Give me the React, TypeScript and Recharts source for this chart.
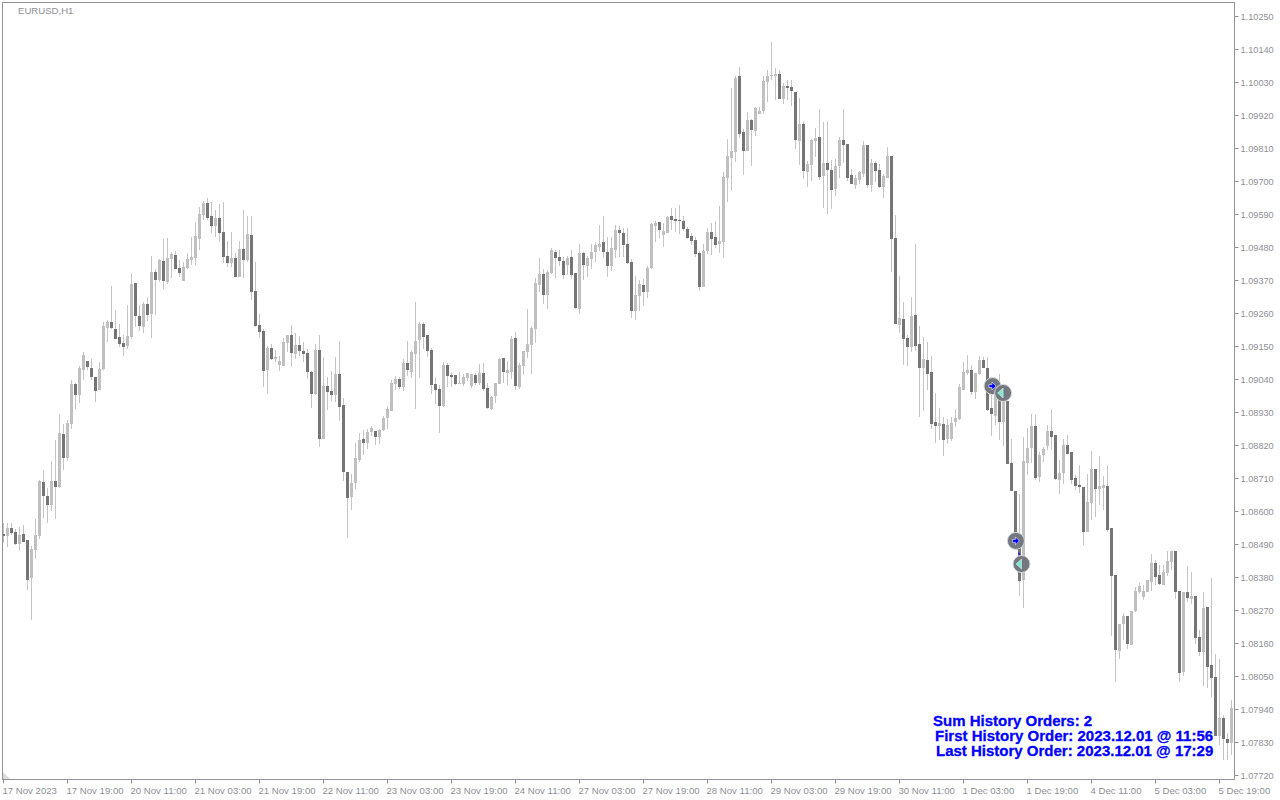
import { Bar, ComposedChart, Line, Scatter, XAxis, YAxis } from "recharts";

// EURUSD H1, values in points (1.08524 = 108524)
const opens = [
  108524,108520,108545,108532,108493,108525,108505,108377,108473,108520,
  108699,108652,108622,108702,108683,108859,108777,108893,109025,108987,
  109072,109102,109079,109049,109005,109075,109212,109232,109209,109182,
  109162,109152,109182,109362,109252,109215,109292,109259,109399,109372,
  109435,109365,109442,109455,109412,109369,109412,109439,109445,109509,
  109589,109629,109585,109551,109578,109531,109451,109428,109445,109381,
  109475,109438,109521,109335,109221,109201,109071,109145,109108,109088,
  109085,109161,109188,109125,109155,109135,109128,109065,108991,109138,
  108841,109018,109001,108988,109058,108955,108731,108648,108695,108771,
  108841,108828,108865,108868,108848,108871,108911,108935,109025,109041,
  109015,109095,109065,109125,109171,109225,109188,109138,109025,109008,
  108951,109088,109055,109055,109025,109025,109045,109018,109055,109028,
  109061,109011,108941,108985,109025,109111,109061,109065,109178,109015,
  109085,109131,109155,109208,109355,109391,109321,109395,109465,109448,
  109435,109421,109448,109395,109275,109461,109418,109441,109465,109481,
  109498,109465,109418,109471,109539,109529,109492,109432,109269,109319,
  109355,109332,109412,109552,109565,109522,109529,109585,109575,109572,
  109569,109542,109519,109505,109462,109349,109469,109532,109515,109492,
  109499,109712,109779,109799,110052,109865,109802,109905,109869,109925,
  109935,110032,110052,110052,110059,109975,110019,110015,109999,109835,
  109892,109732,109755,109835,109849,109719,109762,109739,109675,109752,
  109839,109825,109722,109689,109705,109725,109822,109689,109762,109739,
  109682,109712,109785,109512,109222,109242,109179,109149,109255,109159,
  109079,109105,109065,108899,108885,108892,108842,108842,108899,108909,
  109005,109062,109072,108999,109059,109105,109078,108945,108918,109027,
  108898,108968,108761,108668,108505,108371,108761,108811,108885,108715,
  108788,108818,108868,108855,108705,108728,108821,108798,108711,108688,
  108681,108531,108628,108741,108675,108678,108685,108545,108388,108135,
  108225,108251,108155,108268,108331,108315,108331,108365,108428,108388,
  108355,108395,108431,108468,108335,108065,108331,108308,108318,108181,
  108131,108281,108088,108048,107851,107911,107841,107828,
];

const highs = [
  108563,108563,108563,108542,108550,108555,108505,108485,108575,108705,
  108739,108679,108769,108839,108925,108892,108905,109038,109030,109085,
  109132,109102,109109,109049,109099,109232,109239,109352,109272,109225,
  109189,109289,109395,109362,109289,109299,109315,109452,109409,109442,
  109509,109512,109465,109469,109439,109432,109462,109515,109565,109615,
  109635,109645,109631,109605,109625,109631,109501,109531,109461,109501,
  109605,109585,109585,109431,109258,109208,109151,109158,109138,109118,
  109178,109188,109221,109195,109185,109165,109141,109068,109158,109188,
  109115,109048,109068,109115,109168,108978,108731,108725,108828,108861,
  108871,108875,108885,108868,108875,108918,108951,109038,109051,109048,
  109108,109168,109138,109298,109231,109231,109188,109145,109048,109021,
  109098,109095,109065,109055,109065,109058,109061,109058,109061,109091,
  109095,109028,108985,109028,109111,109111,109101,109185,109198,109095,
  109135,109275,109218,109378,109445,109408,109405,109478,109471,109471,
  109448,109451,109471,109395,109491,109465,109451,109491,109498,109555,
  109585,109515,109515,109555,109552,109545,109545,109442,109385,109372,
  109375,109419,109562,109569,109565,109562,109585,109612,109612,109622,
  109585,109549,109529,109515,109469,109492,109545,109562,109569,109619,
  109732,109842,110012,110052,110082,109875,109932,109909,109949,109949,
  110052,110072,110165,110079,110072,110029,110039,110039,109999,109979,
  109902,109769,109842,109879,109942,109899,109902,109772,109775,109849,
  109942,109825,109742,109722,109735,109835,109822,109775,109769,109759,
  109725,109815,109785,109589,109385,109299,109189,109315,109492,109219,
  109182,109165,109119,108995,108945,108915,108909,108915,108942,109025,
  109099,109122,109089,109062,109119,109115,109115,109005,109038,109060,
  109005,108968,108841,108668,108658,108848,108878,108925,108921,108798,
  108815,108888,108941,108855,108771,108841,108855,108798,108721,108755,
  108681,108725,108801,108741,108785,108718,108755,108545,108388,108225,
  108261,108251,108268,108348,108361,108355,108371,108458,108438,108421,
  108421,108468,108468,108468,108335,108331,108418,108398,108318,108205,
  108331,108281,108378,108125,108108,107921,107861,107971,
];

const lows = [
  108497,108483,108523,108489,108470,108500,108340,108237,108443,108507,
  108580,108563,108603,108577,108677,108739,108770,108875,108943,108963,
  109040,109073,109039,108967,109005,109072,109165,109209,109175,109149,
  109120,109142,109175,109215,109202,109195,109235,109179,109255,109365,
  109342,109359,109379,109409,109382,109369,109409,109422,109422,109472,
  109572,109572,109528,109515,109498,109428,109415,109415,109381,109381,
  109378,109431,109305,109215,109178,109015,108991,109105,109098,109068,
  109085,109131,109081,109108,109118,109098,109041,108945,108988,108815,
  108841,108938,108968,108965,108901,108701,108511,108605,108675,108765,
  108788,108808,108851,108821,108825,108868,108875,108935,109005,109008,
  109001,109051,109045,108941,109045,109141,109115,108991,108958,108861,
  108948,109015,109015,109021,109025,109018,109035,109011,109021,109021,
  109001,108941,108938,108961,109025,109028,109021,109041,109005,109008,
  109055,109111,109058,109161,109331,109291,109275,109391,109378,109418,
  109375,109388,109375,109275,109258,109371,109381,109408,109431,109468,
  109445,109381,109401,109445,109449,109449,109425,109245,109239,109269,
  109285,109312,109409,109499,109512,109482,109529,109539,109532,109525,
  109535,109509,109489,109449,109335,109349,109459,109455,109479,109462,
  109445,109632,109669,109765,109845,109722,109802,109752,109852,109925,
  109925,109965,110039,109972,109975,109959,109972,109952,109809,109755,
  109709,109682,109702,109782,109705,109612,109592,109609,109652,109712,
  109762,109702,109692,109675,109692,109715,109679,109665,109699,109679,
  109645,109712,109399,109225,109195,109089,109085,109132,109135,108915,
  108935,109005,108875,108829,108839,108785,108825,108835,108882,108905,
  109005,109055,108989,108975,109055,109078,108935,108851,108888,108841,
  108818,108758,108668,108482,108318,108278,108721,108761,108705,108698,
  108765,108805,108805,108705,108658,108691,108791,108691,108671,108661,
  108488,108531,108571,108581,108621,108605,108531,108185,108032,108108,
  108171,108141,108155,108265,108325,108305,108331,108335,108355,108355,
  108355,108385,108405,108308,108032,108051,108298,108291,108158,108118,
  108018,108011,107981,107851,107821,107771,107771,107788,
];

const closes = [
  108520,108545,108530,108492,108522,108500,108372,108475,108522,108703,
  108653,108623,108702,108683,108862,108777,108895,109025,108987,109079,
  109122,109082,109047,109002,109075,109219,109232,109212,109175,109159,
  109149,109185,109359,109252,109219,109292,109255,109399,109372,109439,
  109369,109445,109459,109409,109395,109415,109442,109449,109519,109592,
  109629,109579,109551,109578,109528,109448,109428,109445,109381,109475,
  109438,109525,109331,109218,109198,109068,109145,109108,109115,109101,
  109165,109188,109128,109155,109135,109125,109065,108991,109138,108841,
  109018,108998,108988,109058,108948,108731,108645,108695,108778,108838,
  108828,108865,108878,108848,108871,108911,108941,109028,109041,109015,
  109095,109071,109131,109168,109225,109181,109135,109021,109005,108951,
  109088,109051,109048,109025,109028,109048,109061,109058,109028,109061,
  109008,108945,108981,109028,109108,109065,109071,109175,109018,109088,
  109135,109158,109211,109361,109391,109321,109398,109471,109445,109435,
  109388,109445,109388,109278,109461,109421,109445,109465,109488,109491,
  109465,109418,109478,109538,109529,109489,109429,109269,109322,109359,
  109332,109412,109559,109562,109539,109535,109582,109572,109569,109569,
  109542,109512,109502,109459,109349,109469,109532,109509,109489,109502,
  109715,109785,109802,110045,109859,109802,109905,109872,109945,109935,
  110035,110052,110055,110059,109975,110019,110012,110002,109839,109892,
  109735,109759,109839,109845,109715,109762,109739,109672,109752,109839,
  109822,109712,109692,109712,109732,109822,109689,109762,109735,109682,
  109719,109785,109509,109225,109245,109175,109149,109252,109152,109079,
  109109,109059,108892,108885,108895,108839,108889,108895,108912,109015,
  109065,109072,108999,109062,109105,109078,108938,108925,109005,108898,
  108968,108758,108668,108499,108368,108768,108811,108885,108711,108788,
  108808,108868,108848,108708,108728,108821,108791,108705,108685,108681,
  108531,108631,108741,108675,108685,108688,108538,108385,108138,108225,
  108251,108158,108268,108335,108351,108335,108371,108428,108381,108358,
  108398,108435,108468,108331,108061,108331,108311,108318,108178,108131,
  108278,108081,108045,107851,107911,107841,107828,107945,
];

const priceTicks = [
  1.1025, 1.1014, 1.1003, 1.0992, 1.0981, 1.097, 1.0959, 1.0948, 1.0937, 1.0926, 1.0915, 1.0904,
  1.0893, 1.0882, 1.0871, 1.086, 1.0849, 1.0838, 1.0827, 1.0816, 1.0805, 1.0794, 1.0783, 1.0772,
];

const timeLabels = [
  "17 Nov 2023", "17 Nov 19:00", "20 Nov 11:00", "21 Nov 03:00", "21 Nov 19:00",
  "22 Nov 11:00", "23 Nov 03:00", "23 Nov 19:00", "24 Nov 11:00", "27 Nov 03:00",
  "27 Nov 19:00", "28 Nov 11:00", "29 Nov 03:00", "29 Nov 19:00", "30 Nov 11:00",
  "1 Dec 03:00", "1 Dec 19:00", "4 Dec 11:00", "5 Dec 03:00", "5 Dec 19:00",
];
const timeTicks = timeLabels.map((_, n) => n * 16);

// the two history orders: bar position and price of entry and exit
const entryBars = [247.25, 253.1];
const entryPrices = [1.09018, 1.08502];
const exitBars = [249.9, 254.5];
const exitPrices = [1.08995, 1.08425];

const candles = opens.map((o, i) => ({
  i,
  open: o / 100000,
  high: highs[i] / 100000,
  low: lows[i] / 100000,
  close: closes[i] / 100000,
}));

const orderMarks = [
  ...entryBars.map((b, n) => ({ i: b, price: entryPrices[n], kind: "entry" })),
  ...exitBars.map((b, n) => ({ i: b, price: exitPrices[n], kind: "exit" })),
];
const orderLinks = entryBars.map((b, n) => [
  { i: b, price: entryPrices[n] },
  { i: exitBars[n], price: exitPrices[n] },
]);

const AXIS = "#929299";
const LABEL = "#8f8f96";
const WICK = "#c4c4c4";
const UP = "#c0c0c0";
const DOWN = "#757575";

function Candle(props: any) {
  const { x, y, width, height, payload } = props;
  const { open, high, low, close } = payload;
  const perPrice = height / (high - low);
  const cx = Math.floor(x + width / 2);
  const top = Math.round(y + (high - Math.max(open, close)) * perPrice);
  const bottom = Math.round(y + (high - Math.min(open, close)) * perPrice);
  return (
    <g>
      <rect x={cx} y={Math.round(y)} width={1} height={Math.max(1, Math.round(height))} fill={WICK} />
      <rect
        x={cx - 1}
        y={top}
        width={3}
        height={Math.max(1, bottom - top)}
        fill={close >= open ? UP : DOWN}
      />
    </g>
  );
}

function MarkDisc(props: any) {
  return <circle cx={props.cx} cy={props.cy} r={8.5} fill="#73777e" stroke="#d4d8dc" strokeWidth={1} />;
}

function MarkArrow(props: any) {
  const { cx, cy, payload } = props;
  if (payload.kind === "entry") {
    return (
      <polygon
        transform={`translate(${cx},${cy})`}
        points="-3.5,-1.5 -0.5,-1.5 -0.5,-4 3.5,0 -0.5,4 -0.5,1.5 -3.5,1.5"
        fill="#0000ff"
        stroke="#ffffff"
        strokeWidth={0.6}
      />
    );
  }
  return (
    <polygon
      transform={`translate(${cx},${cy})`}
      points="-5.5,0 0,-5 0,5"
      fill="#7fe8cf"
      stroke="#e8f8f4"
      strokeWidth={0.5}
    />
  );
}

function TimeTick(props: any) {
  const { x, y, index } = props;
  return (
    <text x={x - 1} y={y + 8} fontSize={9.6} fontFamily="Liberation Sans" fill={LABEL} textAnchor="start">
      {timeLabels[index]}
    </text>
  );
}

function PriceTick(props: any) {
  const { x, y, payload } = props;
  return (
    <text x={x} y={y + 3.5} fontSize={9.2} fontFamily="Liberation Sans" fill={LABEL} textAnchor="start">
      {payload.value.toFixed(5)}
    </text>
  );
}

const noteStyle = {
  position: "absolute",
  whiteSpace: "nowrap",
  color: "#0000ff",
  fontFamily: "Liberation Sans",
  fontWeight: 700,
  fontSize: 15,
  lineHeight: "15px",
  WebkitTextStroke: "0.3px #0000ff",
} as const;

export default function App() {
  return (
    <div style={{ position: "absolute", left: 0, top: 0, width: 1280, height: 800, background: "#fff" }}>
      <ComposedChart
        width={1280}
        height={800}
        data={candles}
        margin={{ top: 2.5, left: 2.5, right: 0, bottom: 0 }}
        barCategoryGap={0}
      >
        <XAxis
          dataKey="i"
          type="number"
          domain={[-0.25, 307.75]}
          ticks={timeTicks}
          interval={0}
          height={20.5}
          stroke={AXIS}
          tickSize={4}
          tick={<TimeTick />}
          allowDataOverflow
        />
        <YAxis
          orientation="right"
          type="number"
          domain={[1.07706667, 1.10296667]}
          ticks={priceTicks}
          interval={0}
          width={45.5}
          stroke={AXIS}
          tickSize={4}
          tick={<PriceTick />}
          allowDataOverflow
        />
        <Bar
          dataKey={(d: any) => [d.low, d.high]}
          barSize={3}
          shape={<Candle />}
          isAnimationActive={false}
        />
        <Scatter data={orderMarks} dataKey="price" shape={<MarkDisc />} isAnimationActive={false} />
        {orderLinks.map((link, n) => (
          <Line
            key={n}
            data={link}
            dataKey="price"
            stroke="#0000ff"
            strokeWidth={1}
            strokeDasharray="3 3"
            dot={false}
            isAnimationActive={false}
          />
        ))}
        <Scatter data={orderMarks} dataKey="price" shape={<MarkArrow />} isAnimationActive={false} />
      </ComposedChart>
      {/* top and left edge of the frame */}
      <div style={{ position: "absolute", left: 2, top: 2, width: 1232, height: 777, borderLeft: `1px solid ${AXIS}`, borderTop: `1px solid ${AXIS}`, pointerEvents: "none" }} />
      {/* chart shift marker in the corner */}
      <div style={{ position: "absolute", left: 3, top: 772, width: 7, height: 7, background: "#dcdcdc", clipPath: "polygon(0 0, 100% 100%, 0 100%)" }} />
      <div style={{ position: "absolute", left: 18, top: 5, fontFamily: "Liberation Sans", fontSize: 9.6, lineHeight: "12px", color: LABEL }}>
        EURUSD,H1
      </div>
      <div style={{ ...noteStyle, left: 933, top: 713 }}>Sum History Orders: 2</div>
      <div style={{ ...noteStyle, left: 935, top: 728 }}>First History Order: 2023.12.01 @ 11:56</div>
      <div style={{ ...noteStyle, left: 936, top: 743 }}>Last History Order: 2023.12.01 @ 17:29</div>
    </div>
  );
}
